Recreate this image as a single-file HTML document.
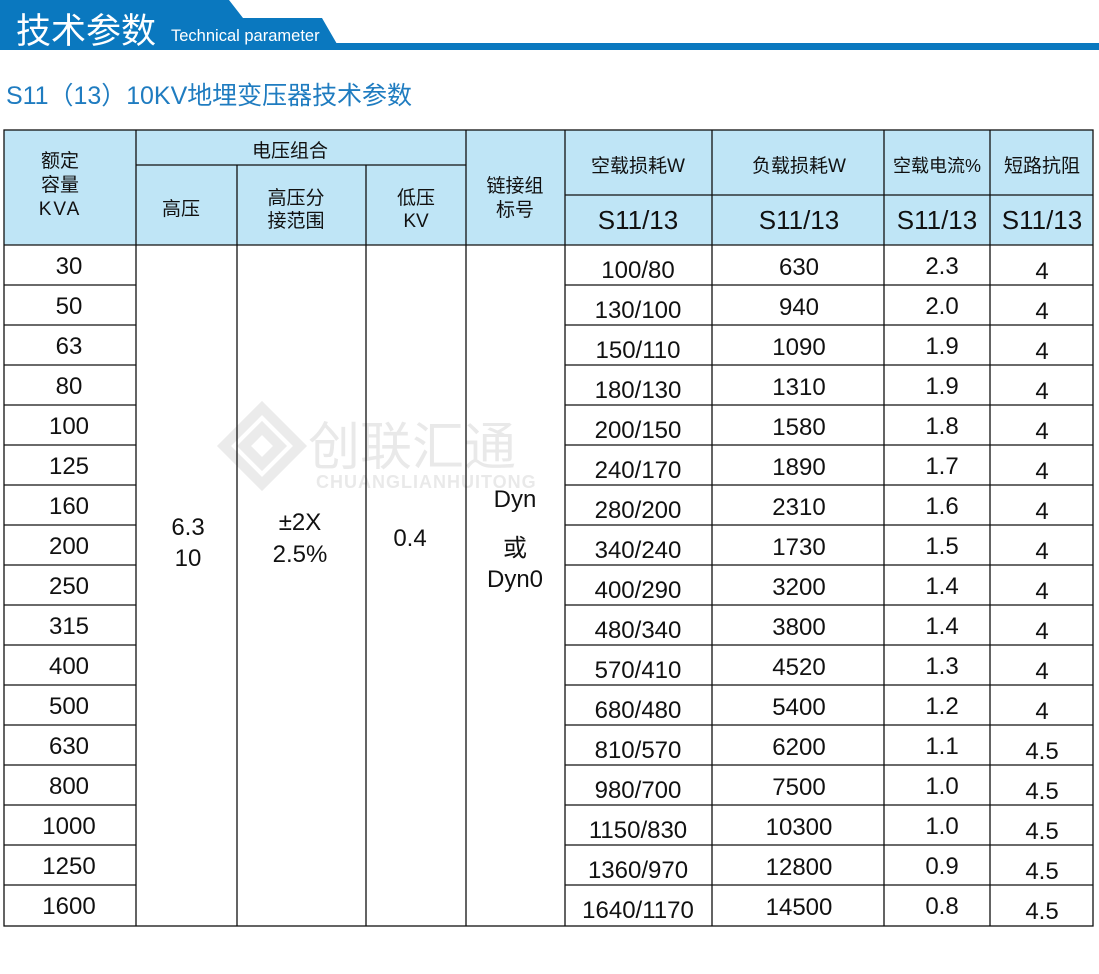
<!DOCTYPE html>
<html><head><meta charset="utf-8"><style>
html,body{margin:0;padding:0;background:#fff;width:1099px;height:974px;overflow:hidden}
svg{display:block}
text{font-family:"Liberation Sans","Noto Sans CJK SC",sans-serif;fill:#111}
.h{font-size:19px;text-anchor:middle}
.d{font-size:24px;text-anchor:middle}
</style></head><body>
<svg width="1099" height="974" viewBox="0 0 1099 974" xmlns="http://www.w3.org/2000/svg">
<polygon points="0,0 229,0 243,18 322,18 337,44 0,44" fill="#0a78bf"/>
<rect x="0" y="43" width="1099" height="7" fill="#0a78bf"/>
<text x="16" y="43" style="font-size:35px;fill:#fff">技术参数</text>
<text x="171" y="41" style="font-size:16.5px;fill:#fff">Technical parameter</text>
<text x="6" y="104" style="font-size:25px;fill:#1f7cc0" textLength="406" lengthAdjust="spacing">S11（13）10KV地埋变压器技术参数</text>
<rect x="4" y="130" width="1089" height="115" fill="#bfe5f6"/>
<g opacity="0.45">
<g fill="none" stroke="#d4d4d4" stroke-width="10">
<polygon points="262,408 300,446 262,484 224,446"/>
<polygon points="262,428 280,446 262,464 244,446"/>
</g>
<text x="308" y="465" style="font-size:52px;fill:#d0d0d0">创联汇通</text>
<text x="316" y="488" style="font-size:18px;fill:#d0d0d0;font-weight:bold;letter-spacing:1px">CHUANGLIANHUITONG</text>
</g>
<g stroke="#111" stroke-width="1.3" fill="none">
<rect x="4" y="130" width="1089" height="796"/>
<line x1="136" y1="165" x2="466" y2="165"/>
<line x1="565" y1="195" x2="1093" y2="195"/>
<line x1="4" y1="245" x2="1093" y2="245"/>
<line x1="136" y1="130" x2="136" y2="926"/>
<line x1="237" y1="165" x2="237" y2="926"/>
<line x1="366" y1="165" x2="366" y2="926"/>
<line x1="466" y1="130" x2="466" y2="926"/>
<line x1="565" y1="130" x2="565" y2="926"/>
<line x1="712" y1="130" x2="712" y2="926"/>
<line x1="884" y1="130" x2="884" y2="926"/>
<line x1="990" y1="130" x2="990" y2="926"/>
<path d="M4 285H136M4 325H136M4 365H136M4 405H136M4 445H136M4 485H136M4 525H136M4 565H136M4 605H136M4 645H136M4 685H136M4 725H136M4 765H136M4 805H136M4 845H136M4 885H136"/>
<path d="M565 285H990M565 325H990M565 365H990M565 405H990M565 445H990M565 485H990M565 525H990M565 565H990M565 605H990M565 645H990M565 685H990M565 725H990M565 765H990M565 805H990M565 845H990M565 885H990"/>
<path d="M990 285H1093M990 325H1093M990 365H1093M990 405H1093M990 445H1093M990 485H1093M990 525H1093M990 565H1093M990 605H1093M990 645H1093M990 685H1093M990 725H1093M990 765H1093M990 805H1093M990 845H1093M990 885H1093"/>
</g>
<text class="h" x="60" y="167">额定</text>
<text class="h" x="60" y="191">容量</text>
<text class="h" x="60" y="215" style="letter-spacing:2px">KVA</text>
<text class="h" x="290" y="157">电压组合</text>
<text class="h" x="181" y="215">高压</text>
<text class="h" x="296" y="204">高压分</text>
<text class="h" x="296" y="227">接范围</text>
<text class="h" x="416" y="204">低压</text>
<text class="h" x="416" y="227">KV</text>
<text class="h" x="515" y="192">链接组</text>
<text class="h" x="515" y="216">标号</text>
<text class="h" x="638" y="172">空载损耗W</text>
<text class="h" x="799" y="172">负载损耗W</text>
<text class="h" x="937" y="172" style="font-size:18px">空载电流%</text>
<text class="h" x="1042" y="172">短路抗阻</text>
<text class="d" x="638" y="229" style="font-size:26px">S11/13</text>
<text class="d" x="799" y="229" style="font-size:26px">S11/13</text>
<text class="d" x="937" y="229" style="font-size:26px">S11/13</text>
<text class="d" x="1042" y="229" style="font-size:26px">S11/13</text>
<text class="d" x="188" y="535">6.3</text>
<text class="d" x="188" y="566">10</text>
<text class="d" x="300" y="530">±2X</text>
<text class="d" x="300" y="562">2.5%</text>
<text class="d" x="410" y="546">0.4</text>
<text class="d" x="515" y="507">Dyn</text>
<text class="d" x="515" y="556">或</text>
<text class="d" x="515" y="587">Dyn0</text>
<text class="d" x="69" y="274">30</text><text class="d" x="69" y="314">50</text><text class="d" x="69" y="354">63</text><text class="d" x="69" y="394">80</text><text class="d" x="69" y="434">100</text><text class="d" x="69" y="474">125</text><text class="d" x="69" y="514">160</text><text class="d" x="69" y="554">200</text><text class="d" x="69" y="594">250</text><text class="d" x="69" y="634">315</text><text class="d" x="69" y="674">400</text><text class="d" x="69" y="714">500</text><text class="d" x="69" y="754">630</text><text class="d" x="69" y="794">800</text><text class="d" x="69" y="834">1000</text><text class="d" x="69" y="874">1250</text><text class="d" x="69" y="914">1600</text>
<text class="d" x="638" y="278">100/80</text><text class="d" x="638" y="318">130/100</text><text class="d" x="638" y="358">150/110</text><text class="d" x="638" y="398">180/130</text><text class="d" x="638" y="438">200/150</text><text class="d" x="638" y="478">240/170</text><text class="d" x="638" y="518">280/200</text><text class="d" x="638" y="558">340/240</text><text class="d" x="638" y="598">400/290</text><text class="d" x="638" y="638">480/340</text><text class="d" x="638" y="678">570/410</text><text class="d" x="638" y="718">680/480</text><text class="d" x="638" y="758">810/570</text><text class="d" x="638" y="798">980/700</text><text class="d" x="638" y="838">1150/830</text><text class="d" x="638" y="878">1360/970</text><text class="d" x="638" y="918">1640/1170</text>
<text class="d" x="799" y="275">630</text><text class="d" x="799" y="315">940</text><text class="d" x="799" y="355">1090</text><text class="d" x="799" y="395">1310</text><text class="d" x="799" y="435">1580</text><text class="d" x="799" y="475">1890</text><text class="d" x="799" y="515">2310</text><text class="d" x="799" y="555">1730</text><text class="d" x="799" y="595">3200</text><text class="d" x="799" y="635">3800</text><text class="d" x="799" y="675">4520</text><text class="d" x="799" y="715">5400</text><text class="d" x="799" y="755">6200</text><text class="d" x="799" y="795">7500</text><text class="d" x="799" y="835">10300</text><text class="d" x="799" y="875">12800</text><text class="d" x="799" y="915">14500</text>
<text class="d" x="942" y="274">2.3</text><text class="d" x="942" y="314">2.0</text><text class="d" x="942" y="354">1.9</text><text class="d" x="942" y="394">1.9</text><text class="d" x="942" y="434">1.8</text><text class="d" x="942" y="474">1.7</text><text class="d" x="942" y="514">1.6</text><text class="d" x="942" y="554">1.5</text><text class="d" x="942" y="594">1.4</text><text class="d" x="942" y="634">1.4</text><text class="d" x="942" y="674">1.3</text><text class="d" x="942" y="714">1.2</text><text class="d" x="942" y="754">1.1</text><text class="d" x="942" y="794">1.0</text><text class="d" x="942" y="834">1.0</text><text class="d" x="942" y="874">0.9</text><text class="d" x="942" y="914">0.8</text>
<text class="d" x="1042" y="279">4</text><text class="d" x="1042" y="319">4</text><text class="d" x="1042" y="359">4</text><text class="d" x="1042" y="399">4</text><text class="d" x="1042" y="439">4</text><text class="d" x="1042" y="479">4</text><text class="d" x="1042" y="519">4</text><text class="d" x="1042" y="559">4</text><text class="d" x="1042" y="599">4</text><text class="d" x="1042" y="639">4</text><text class="d" x="1042" y="679">4</text><text class="d" x="1042" y="719">4</text><text class="d" x="1042" y="759">4.5</text><text class="d" x="1042" y="799">4.5</text><text class="d" x="1042" y="839">4.5</text><text class="d" x="1042" y="879">4.5</text><text class="d" x="1042" y="919">4.5</text>
</svg>
</body></html>
